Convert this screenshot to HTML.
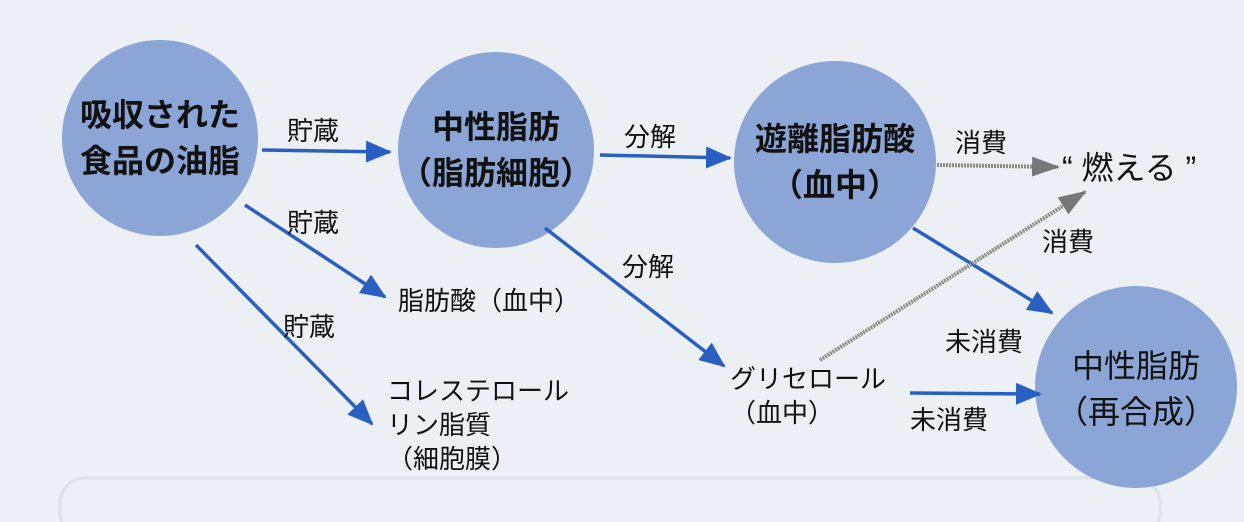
<!DOCTYPE html>
<html><head><meta charset="utf-8"><style>
body{margin:0;width:1244px;height:522px;background:#eceff3;overflow:hidden;position:relative;font-family:"Liberation Sans","Noto Sans CJK JP",sans-serif;color:#111}
.t{position:absolute;white-space:nowrap;font-size:26px;line-height:34px}
.c{position:absolute;text-align:center;font-weight:bold;font-size:32px;line-height:46px}
</style></head><body>
<svg width="1244" height="522" style="position:absolute;left:0;top:0">
<defs>
<marker id="b" markerWidth="26" markerHeight="22" refX="24" refY="11" orient="auto" markerUnits="userSpaceOnUse" viewBox="0 0 26 22"><path d="M0,0L26,11L0,22z" fill="#2a5fc2"/></marker>
<marker id="g" markerWidth="28" markerHeight="20" refX="26" refY="10" orient="auto" markerUnits="userSpaceOnUse" viewBox="0 0 28 20"><path d="M0,0L28,10L0,20z" fill="#777"/></marker>
</defs>
<rect x="60" y="478" width="1100" height="60" rx="25" fill="none" stroke="#dde2ea" stroke-width="3"/>
<circle cx="160" cy="138" r="98" fill="#8ba6d6"/>
<circle cx="496" cy="150" r="98" fill="#8ba6d6"/>
<circle cx="835" cy="162" r="101" fill="#8ba6d6"/>
<circle cx="1136" cy="387" r="101" fill="#8ba6d6"/>
<g stroke="#2a5fc2" stroke-width="3.5" fill="none">
<line x1="262" y1="150" x2="390" y2="152" marker-end="url(#b)"/>
<line x1="600" y1="155" x2="730" y2="158" marker-end="url(#b)"/>
<line x1="245" y1="205" x2="385" y2="297" marker-end="url(#b)"/>
<line x1="196" y1="245" x2="372" y2="424" marker-end="url(#b)"/>
<line x1="545" y1="228" x2="724" y2="366" marker-end="url(#b)"/>
<line x1="913" y1="228" x2="1052" y2="313" marker-end="url(#b)"/>
<line x1="910" y1="393" x2="1040" y2="394" marker-end="url(#b)"/>
</g>
<g stroke="#8a8a80" stroke-width="4" stroke-dasharray="2 1" fill="none">
<line x1="937" y1="165" x2="1058" y2="167" marker-end="url(#g)"/>
<line x1="820" y1="360" x2="1085" y2="192" marker-end="url(#g)"/>
</g>
</svg>
<div class="c" style="left:62px;top:92px;width:196px">吸収された<br>食品の油脂</div>
<div class="c" style="left:398px;top:104px;width:196px">中性脂肪<br>（脂肪細胞）</div>
<div class="c" style="left:734px;top:116px;width:202px">遊離脂肪酸<br>（血中）</div>
<div class="c" style="left:1035px;top:343px;width:202px;font-weight:normal">中性脂肪<br>（再合成）</div>
<div class="t" style="left:287px;top:114px">貯蔵</div>
<div class="t" style="left:624px;top:120px">分解</div>
<div class="t" style="left:955px;top:126px">消費</div>
<div class="t" style="left:1062px;top:146px;font-size:32px;line-height:44px">“ 燃える ”</div>
<div class="t" style="left:1042px;top:225px">消費</div>
<div class="t" style="left:287px;top:206px">貯蔵</div>
<div class="t" style="left:622px;top:250px">分解</div>
<div class="t" style="left:398px;top:284px">脂肪酸（血中）</div>
<div class="t" style="left:283px;top:310px">貯蔵</div>
<div class="t" style="left:945px;top:325px">未消費</div>
<div class="t" style="left:730px;top:362px">グリセロール<br>（血中）</div>
<div class="t" style="left:910px;top:403px">未消費</div>
<div class="t" style="left:387px;top:374px">コレステロール<br>リン脂質<br>（細胞膜）</div>
</body></html>
